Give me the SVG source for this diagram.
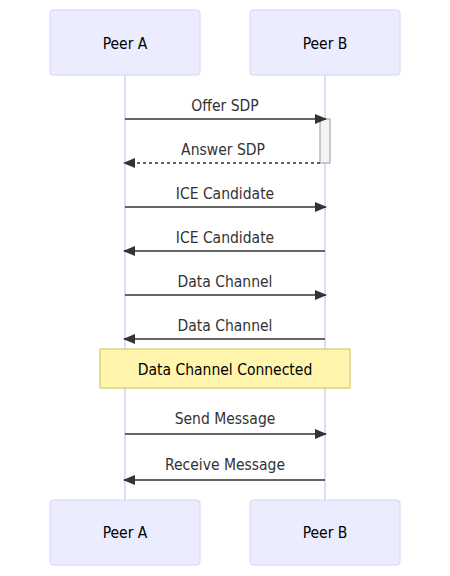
<svg xmlns="http://www.w3.org/2000/svg" width="450" height="576" viewBox="0 0 450 576">
<style>
text{font-family:"DejaVu Sans Condensed","DejaVu Sans",sans-serif;font-stretch:condensed;font-size:15.5px;text-anchor:middle}
.actor{fill:#ECECFF;stroke:#d9d2f5;stroke-width:1}
.atext{fill:#000}
.life{stroke:#d6ccf5;stroke-width:1.5;fill:none}
.msg{stroke:#333;stroke-width:1.5;fill:none}
.dash{stroke-dasharray:3,3}
.mtext{fill:#333}
.note{fill:#fff5ad;stroke:#c9c34a;stroke-width:1}
.ntext{fill:#000}
.act{fill:#f4f4f4;stroke:#999;stroke-width:1}
</style>
<defs>
<marker id="arrow" viewBox="0 0 12 10" refX="11" refY="5" markerWidth="12" markerHeight="10" markerUnits="userSpaceOnUse" orient="auto">
<path d="M0,0 L12,5 L0,10 z" fill="#333"/>
</marker>
</defs>
<rect width="450" height="576" fill="#fff"/>
<g id="lifelines">
<line class="life" x1="125" y1="75" x2="125" y2="500"/>
<line class="life" x1="325" y1="75" x2="325" y2="500"/>
</g>
<g id="peerA-top"><rect class="actor" x="50" y="10" width="150" height="65" rx="3"/><text class="atext" x="125" y="49">Peer A</text></g>
<g id="peerB-top"><rect class="actor" x="250" y="10" width="150" height="65" rx="3"/><text class="atext" x="325" y="49">Peer B</text></g>
<g id="peerA-bottom"><rect class="actor" x="50" y="500" width="150" height="65" rx="3"/><text class="atext" x="125" y="538">Peer A</text></g>
<g id="peerB-bottom"><rect class="actor" x="250" y="500" width="150" height="65" rx="3"/><text class="atext" x="325" y="538">Peer B</text></g>
<g id="activation"><rect class="act" x="320" y="119" width="10" height="44"/></g>
<g id="connectors">
<line class="msg" x1="125" y1="119" x2="326" y2="119" marker-end="url(#arrow)"/>
<text class="mtext" x="225" y="111">Offer SDP</text>
<line class="msg dash" x1="320" y1="163" x2="124" y2="163" marker-end="url(#arrow)"/>
<text class="mtext" x="223" y="155">Answer SDP</text>
<line class="msg" x1="125" y1="207" x2="326" y2="207" marker-end="url(#arrow)"/>
<text class="mtext" x="225" y="199">ICE Candidate</text>
<line class="msg" x1="325" y1="251" x2="124" y2="251" marker-end="url(#arrow)"/>
<text class="mtext" x="225" y="243">ICE Candidate</text>
<line class="msg" x1="125" y1="295" x2="326" y2="295" marker-end="url(#arrow)"/>
<text class="mtext" x="225" y="287">Data Channel</text>
<line class="msg" x1="325" y1="339" x2="124" y2="339" marker-end="url(#arrow)"/>
<text class="mtext" x="225" y="331">Data Channel</text>
<line class="msg" x1="125" y1="434" x2="326" y2="434" marker-end="url(#arrow)"/>
<text class="mtext" x="225" y="424">Send Message</text>
<line class="msg" x1="325" y1="480" x2="124" y2="480" marker-end="url(#arrow)"/>
<text class="mtext" x="225" y="470">Receive Message</text>
</g>
<g id="note"><rect class="note" x="100" y="349" width="250" height="39"/><text class="ntext" x="225" y="375">Data Channel Connected</text></g>
</svg>
